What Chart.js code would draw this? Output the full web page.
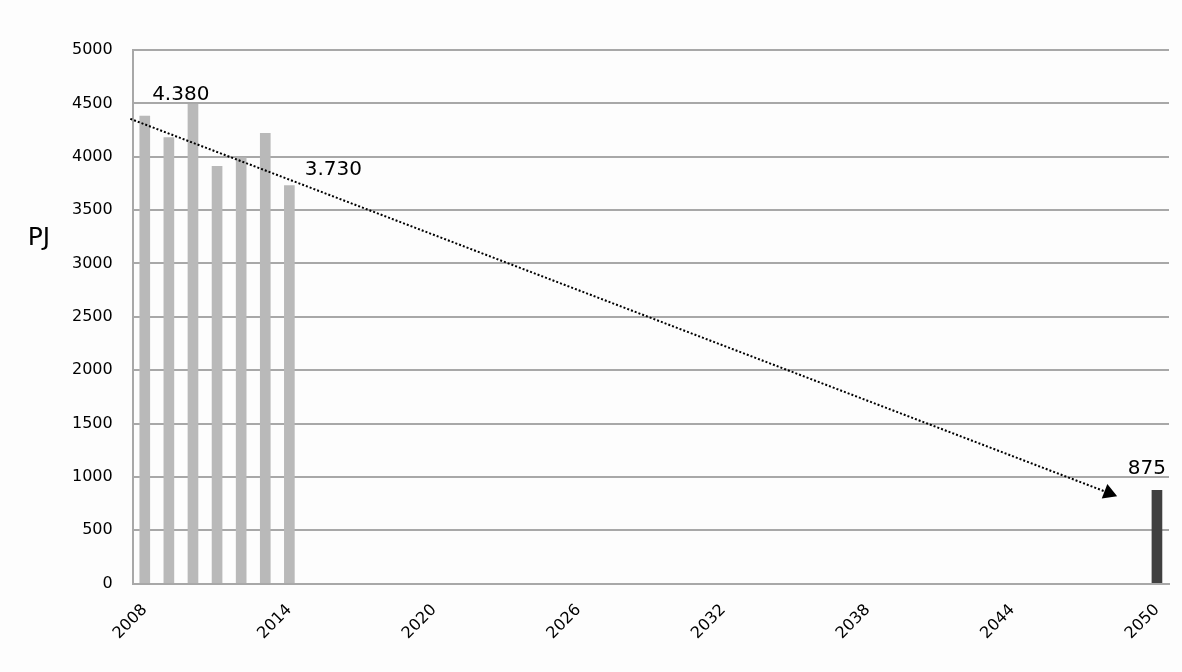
<!DOCTYPE html>
<html lang="en">
<head>
    <meta charset="UTF-8">
    <title>PJ 2008 - 2050</title>
    <script src="https://cdn.jsdelivr.net/npm/chart.js"></script>
    <style>
        html, body { margin: 0; padding: 0; background: #fdfdfd; }
        #wrap { width: 1182px; height: 672px; }
    </style>
</head>
<body>
    <div id="wrap">
        <canvas id="myChart" width="1182" height="672"></canvas>
    </div>

    <script>
        // data
        const firstYear = 2008;
        const lastYear = 2050;
        const historicYears = [2008, 2009, 2010, 2011, 2012, 2013, 2014];
        const historicPJ = [4380, 4180, 4490, 3910, 3990, 4220, 3730];
        const targetYears = [2050];
        const targetPJ = [875];
        const trendYears = [2007.4, 2048.0];
        const trendPJ = [4355, 850];
        const labelledYears = [2008, 2014, 2050];
        const yTicks = [0, 500, 1000, 1500, 2000, 2500, 3000, 3500, 4000, 4500, 5000];
        const xTickStep = 6;

        const years = [];
        for (let y = firstYear; y <= lastYear; y++) years.push(String(y));

        function toSeries(ys, vals) {
            return years.map(function (y) {
                const i = ys.indexOf(Number(y));
                return i === -1 ? null : vals[i];
            });
        }
        const historicData = toSeries(historicYears, historicPJ);
        const targetData = toSeries(targetYears, targetPJ);
        const allData = years.map(function (y, i) {
            return historicData[i] !== null ? historicData[i] : targetData[i];
        });

        const font = 'DejaVu Sans';

        // value labels with manual offsets, like moved excel labels
        const labelOffsets = { 2008: [36, -21], 2014: [44, -16], 2050: [-10, -21] };
        const valueLabels = {
            id: 'valueLabels',
            afterDatasetsDraw(chart) {
                const ctx = chart.ctx;
                const x = chart.scales.x, y = chart.scales.y;
                ctx.save();
                ctx.font = '20px "' + font + '"';
                ctx.fillStyle = '#000';
                ctx.textAlign = 'center';
                ctx.textBaseline = 'middle';
                labelledYears.forEach(function (yr) {
                    const i = years.indexOf(String(yr));
                    const v = allData[i];
                    const txt = v.toLocaleString('de-DE');
                    const off = labelOffsets[yr];
                    ctx.fillText(txt, x.getPixelForValue(i) + off[0], y.getPixelForValue(v) + off[1]);
                });
                // axis unit, horizontal like the original
                ctx.font = '25px "' + font + '"';
                ctx.fillText('PJ', 39, y.getPixelForValue(3230));
                ctx.restore();
            }
        };

        const ctx = document.getElementById('myChart').getContext('2d');
        new Chart(ctx, {
            data: {
                labels: years,
                datasets: [{
                    type: 'bar',
                    label: 'historic',
                    data: historicData,
                    backgroundColor: '#b9b9b9',
                    barThickness: 10,
                    grouped: false,
                    order: 2
                }, {
                    type: 'bar',
                    label: 'target',
                    data: targetData,
                    backgroundColor: '#404040',
                    barThickness: 10,
                    grouped: false,
                    order: 2
                }, {
                    type: 'line',
                    label: 'trend',
                    xAxisID: 'xt',
                    data: trendYears.map(function (yr, i) { return { x: yr, y: trendPJ[i] }; }),
                    borderColor: '#000',
                    borderWidth: 2,
                    borderDash: [2, 2],
                    pointStyle: 'triangle',
                    pointRadius: [0, 9],
                    pointRotation: 111,
                    pointBackgroundColor: '#000',
                    pointBorderColor: '#000',
                    pointBorderWidth: 0,
                    clip: false,
                    order: 1
                }]
            },
            options: {
                responsive: false,
                animation: false,
                events: [],
                layout: { padding: { left: 52, right: 13, top: 50, bottom: 20 } },
                plugins: { legend: { display: false }, tooltip: { enabled: false } },
                scales: {
                    x: {
                        offset: true,
                        grid: { display: false },
                        border: { display: true, color: '#a8a8a8', width: 2 },
                        ticks: {
                            autoSkip: false,
                            maxRotation: 45,
                            minRotation: 45,
                            padding: 9,
                            color: '#000',
                            font: { family: font, size: 16 },
                            callback: function (v, i) { return i % xTickStep === 0 ? years[i] : ''; }
                        }
                    },
                    xt: {
                        type: 'linear',
                        display: false,
                        min: firstYear - 0.5,
                        max: lastYear + 0.5
                    },
                    y: {
                        min: 0,
                        max: 5000,
                        afterBuildTicks: function (axis) {
                            axis.ticks = yTicks.map(function (v) { return { value: v }; });
                        },
                        grid: { color: '#a8a8a8', lineWidth: 2, drawTicks: false },
                        border: { display: true, color: '#a8a8a8', width: 2 },
                        ticks: {
                            padding: 20,
                            color: '#000',
                            font: { family: font, size: 16 },
                            callback: function (v) { return String(v); }
                        }
                    }
                }
            },
            plugins: [valueLabels]
        });
    </script>
</body>
</html>
